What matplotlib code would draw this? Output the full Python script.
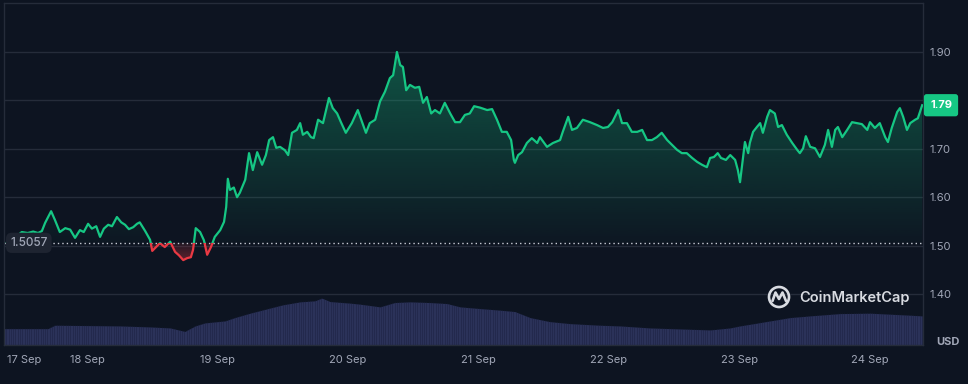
import numpy as np
import matplotlib
matplotlib.use("Agg")
import matplotlib.pyplot as plt
from matplotlib.patches import Rectangle, Circle
from matplotlib.colors import to_rgb
import matplotlib.transforms as mtransforms

plt.rcParams['font.family'] = ['Inter', 'DejaVu Sans']

# ---------------- data (hours since 17 Sep 00:00) ----------------
hours = [9.3, 10.6, 12.0, 13.1, 14.1, 15.0, 15.7, 16.3, 17.4, 18.1,
         19.0, 20.0, 20.9, 21.8, 22.7, 23.4, 24.2, 24.9, 25.7, 26.4,
         27.1, 27.9, 28.6, 29.5, 30.3, 31.0, 31.7, 32.5, 33.2, 33.7,
         34.7, 35.6, 36.0, 36.7, 37.4, 38.3, 39.3, 40.2, 40.9, 41.7,
         42.4, 43.1, 43.5, 44.0, 44.8, 45.5, 46.1, 46.8, 47.5, 48.5,
         49.2, 49.6, 49.9, 50.3, 51.0, 51.6, 52.1, 53.1, 53.8, 54.5,
         55.3, 56.2, 56.9, 57.5, 58.2, 58.8, 59.5, 60.4, 61.0, 61.7,
         62.6, 63.2, 63.7, 64.5, 65.2, 65.7, 66.5, 67.4, 68.5, 69.2,
         70.0, 70.7, 71.6, 72.7, 73.8, 74.6, 75.3, 76.0, 77.0, 77.9,
         78.8, 79.7, 80.3, 81.0, 81.6, 82.1, 82.7, 83.4, 84.3, 85.1,
         85.8, 86.5, 87.3, 88.0, 88.9, 89.8, 90.8, 91.7, 92.6, 93.5,
         94.4, 95.2, 96.3, 97.6, 98.5, 99.4, 100.3, 101.2, 102.0, 102.5,
         102.7, 103.3, 104.0, 104.9, 105.8, 106.8, 107.3, 108.6, 109.7, 111.0,
         111.5, 112.5, 113.2, 114.1, 115.2, 116.5, 117.8, 118.9, 119.8, 120.6,
         121.7, 122.4, 123.3, 124.2, 125.2, 126.1, 127.0, 127.9, 128.8, 129.7,
         130.7, 131.6, 132.5, 133.4, 134.3, 135.3, 136.2, 137.1, 138.0, 138.6,
         139.3, 140.0, 140.6, 141.5, 142.3, 143.2, 143.7, 144.1, 144.6, 145.0,
         145.6, 145.9, 146.5, 147.2, 147.8, 148.3, 149.1, 149.6, 150.5, 151.1,
         151.8, 152.7, 153.7, 154.6, 155.1, 155.7, 156.2, 157.0, 157.9, 158.8,
         159.7, 160.3, 161.0, 161.6, 162.1, 162.9, 163.8, 164.7, 165.6, 166.5,
         167.5, 168.0, 168.9, 169.8, 170.8, 171.3, 172.0, 173.0, 173.5, 174.1,
         174.8, 175.4, 176.3, 176.8, 177.6]

price = [1.506, 1.515, 1.528, 1.526, 1.529, 1.526, 1.530, 1.547, 1.571, 1.553,
         1.528, 1.536, 1.533, 1.516, 1.532, 1.528, 1.545, 1.535, 1.540, 1.518,
         1.535, 1.543, 1.540, 1.559, 1.548, 1.543, 1.534, 1.538, 1.545, 1.548,
         1.530, 1.512, 1.489, 1.497, 1.505, 1.497, 1.508, 1.487, 1.480, 1.470,
         1.474, 1.476, 1.491, 1.536, 1.528, 1.511, 1.481, 1.497, 1.518, 1.532,
         1.549, 1.580, 1.638, 1.615, 1.620, 1.600, 1.609, 1.636, 1.691, 1.656,
         1.693, 1.667, 1.687, 1.718, 1.724, 1.702, 1.704, 1.697, 1.687, 1.733,
         1.739, 1.753, 1.729, 1.735, 1.724, 1.722, 1.760, 1.753, 1.805, 1.784,
         1.773, 1.755, 1.733, 1.753, 1.780, 1.755, 1.733, 1.753, 1.760, 1.798,
         1.818, 1.846, 1.852, 1.900, 1.873, 1.869, 1.821, 1.832, 1.826, 1.828,
         1.795, 1.807, 1.773, 1.780, 1.773, 1.795, 1.773, 1.755, 1.755, 1.770,
         1.773, 1.788, 1.785, 1.780, 1.782, 1.760, 1.735, 1.735, 1.718, 1.677,
         1.671, 1.687, 1.693, 1.712, 1.722, 1.712, 1.724, 1.704, 1.712, 1.718,
         1.735, 1.766, 1.739, 1.743, 1.760, 1.755, 1.749, 1.743, 1.745, 1.755,
         1.780, 1.753, 1.753, 1.735, 1.735, 1.739, 1.718, 1.718, 1.724, 1.733,
         1.718, 1.708, 1.698, 1.691, 1.691, 1.681, 1.673, 1.667, 1.662, 1.681,
         1.683, 1.691, 1.681, 1.677, 1.687, 1.677, 1.656, 1.631, 1.677, 1.714,
         1.691, 1.712, 1.735, 1.745, 1.753, 1.733, 1.766, 1.780, 1.773, 1.745,
         1.749, 1.729, 1.712, 1.698, 1.691, 1.701, 1.726, 1.704, 1.701, 1.683,
         1.708, 1.739, 1.704, 1.739, 1.745, 1.724, 1.739, 1.755, 1.753, 1.751,
         1.739, 1.755, 1.743, 1.753, 1.724, 1.714, 1.743, 1.776, 1.784, 1.766,
         1.739, 1.753, 1.760, 1.763, 1.790]

baseline = 1.5057
last_price_label = "1.79"

vol_hours = [8.8, 16.8, 18.1, 30.1, 35.6, 39.3, 42.0, 43.9, 45.7, 49.4,
             51.2, 54.0, 57.1, 60.0, 63.2, 65.9, 67.2, 68.7, 72.4, 74.2,
             77.9, 80.6, 83.4, 87.1, 90.2, 92.6, 96.3, 100.0, 102.7, 105.5,
             109.1, 112.8, 118.3, 122.0, 127.5, 133.1, 138.6, 142.3, 144.1, 147.8,
             153.3, 157.0, 162.5, 168.0, 171.7, 175.4, 177.6]
volume = [1630, 1630, 1970, 1900, 1800, 1700, 1350, 1900, 2200, 2400,
          2730, 3170, 3600, 4000, 4300, 4400, 4670, 4330, 4170, 4070,
          3800, 4230, 4300, 4230, 4130, 3800, 3630, 3470, 3330, 2730,
          2330, 2130, 1970, 1900, 1700, 1600, 1500, 1700, 1900, 2230,
          2730, 2900, 3130, 3170, 3070, 2970, 2900]

first_tick_hour = 12.4
first_label = "17 Sep"
tick_hours = [24, 48, 72, 96, 120, 144, 168]
tick_labels = ["18 Sep", "19 Sep", "20 Sep", "21 Sep", "22 Sep", "23 Sep", "24 Sep"]
y_ticks = [1.40, 1.50, 1.60, 1.70, 1.80, 1.90]
y_tick_labels = ["1.40", "1.50", "1.60", "1.70", "", "1.90"]  # 1.80 hidden by price tag

# ---------------- style ----------------
BG = "#0d1421"
GRID = "#252c3a"
TXT = "#a1a7b7"
GREEN = "#16c784"
RED = "#ea3943"
VOL = "#2b3259"

W, H = 968, 384
fig = plt.figure(figsize=(W / 100, H / 100), dpi=100, facecolor=BG)
left, right, top, bottom = 4 / W, 923 / W, 1 - 3 / H, 1 - 345 / H
pos = [left, bottom, right - left, top - bottom]

x0, x1 = 8.735, 177.75
y0, y1 = 1.2946, 2.0012

# volume axes (behind)
ax_v = fig.add_axes(pos, zorder=0)
ax_v.set_facecolor(BG)
vf = ax_v.fill_between(vol_hours, 0, volume, color=VOL, lw=0)
stripes = ax_v.vlines(np.arange(x0, x1, 0.42), 0, 6000, color="#1a2040",
                      lw=0.6, alpha=0.55)
stripes.set_clip_path(vf.get_paths()[0], transform=ax_v.transData)
ax_v.set_xlim(x0, x1)
ax_v.set_ylim(0, 34100)
ax_v.set_xticks([]); ax_v.set_yticks([])
for s in ax_v.spines.values():
    s.set_visible(False)

# price axes
ax = fig.add_axes(pos, zorder=1)
ax.patch.set_alpha(0)
t = np.array(hours); p = np.array(price)

# green gradient area above baseline
upper = np.maximum(p, baseline)
fb = ax.fill_between(t, baseline, upper, facecolor='none', edgecolor='none')
g = np.zeros((256, 1, 4)); g[..., :3] = to_rgb(GREEN)
g[:, 0, 3] = np.linspace(0.02, 0.36, 256)
im = ax.imshow(g, extent=[x0, x1, baseline, 1.90], origin='lower',
               aspect='auto', zorder=1, interpolation='bilinear')
im.set_clip_path(fb.get_paths()[0], transform=ax.transData)

# red gradient area below baseline
lower = np.minimum(p, baseline)
fr = ax.fill_between(t, lower, baseline, facecolor='none', edgecolor='none')
r = np.zeros((256, 1, 4)); r[..., :3] = to_rgb(RED)
r[:, 0, 3] = np.linspace(0.45, 0.08, 256)
imr = ax.imshow(r, extent=[x0, x1, 1.46, baseline], origin='lower',
                aspect='auto', zorder=1, interpolation='bilinear')
imr.set_clip_path(fr.get_paths()[0], transform=ax.transData)

# line, coloured by side of baseline
lg, = ax.plot(t, p, color=GREEN, lw=1.6, zorder=3, solid_joinstyle='round')
lg.set_clip_path(Rectangle((x0, baseline), x1 - x0, 1.0, transform=ax.transData))
lr, = ax.plot(t, p, color=RED, lw=1.6, zorder=3, solid_joinstyle='round')
lr.set_clip_path(Rectangle((x0, baseline - 1.0), x1 - x0, 1.0, transform=ax.transData))

# baseline dotted
ax.axhline(baseline, color="#c9cdd6", lw=1.0, ls=(0, (1, 2.2)), zorder=2)

ax.set_xlim(x0, x1)
ax.set_ylim(y0, y1)
ax.set_aspect('auto')

ax.yaxis.tick_right()
ax.set_yticks(y_ticks)
ax.set_yticklabels(y_tick_labels)
ax.set_xticks([first_tick_hour] + tick_hours)
ax.set_xticklabels([first_label] + tick_labels)
ax.tick_params(axis='both', length=0, colors=TXT, labelsize=8)
ax.tick_params(axis='y', pad=4.5)
ax.tick_params(axis='x', pad=7)
ax.grid(axis='y', color=GRID, lw=1.0, zorder=0)
ax.set_axisbelow(True)
for s in ax.spines.values():
    s.set_color(GRID); s.set_linewidth(1.0)

blend = mtransforms.blended_transform_factory(ax.transAxes, ax.transData)
ax.text(0.027, baseline, "1.5057", transform=blend, ha='center', va='center',
        fontsize=8.5, color=TXT, weight='medium', zorder=5,
        bbox=dict(boxstyle='round,pad=0.35,rounding_size=0.5', fc="#1e2431", ec='none'))
ax.text(1.0196, price[-1], last_price_label, transform=blend, ha='center', va='center',
        fontsize=8, color='white', weight='bold', zorder=5, clip_on=False,
        bbox=dict(boxstyle='round,pad=0.55,rounding_size=0.25', fc=GREEN, ec='none'))

# overlay in pixel coords for decorations
ov = fig.add_axes([0, 0, 1, 1], zorder=2)
ov.set_xlim(0, W); ov.set_ylim(H, 0); ov.axis('off')
ov.patch.set_alpha(0)
LOGO = "#d8dbe1"
ov.add_patch(Circle((779, 297), 10, fill=False, ec=LOGO, lw=1.9))
ov.plot([772.5, 775.5, 779, 782.5, 786], [301, 292.5, 299, 292.5, 301], color=LOGO, lw=1.9,
        solid_joinstyle='round', solid_capstyle='round')
ov.text(799, 297.5, "CoinMarketCap", ha='left', va='center', fontsize=10.5,
        weight='semibold', color=LOGO)
ov.text(948, 342, "USD", ha='center', va='center', fontsize=8, weight='bold', color=TXT)

fig.savefig("out.png", dpi=100, facecolor=BG)
